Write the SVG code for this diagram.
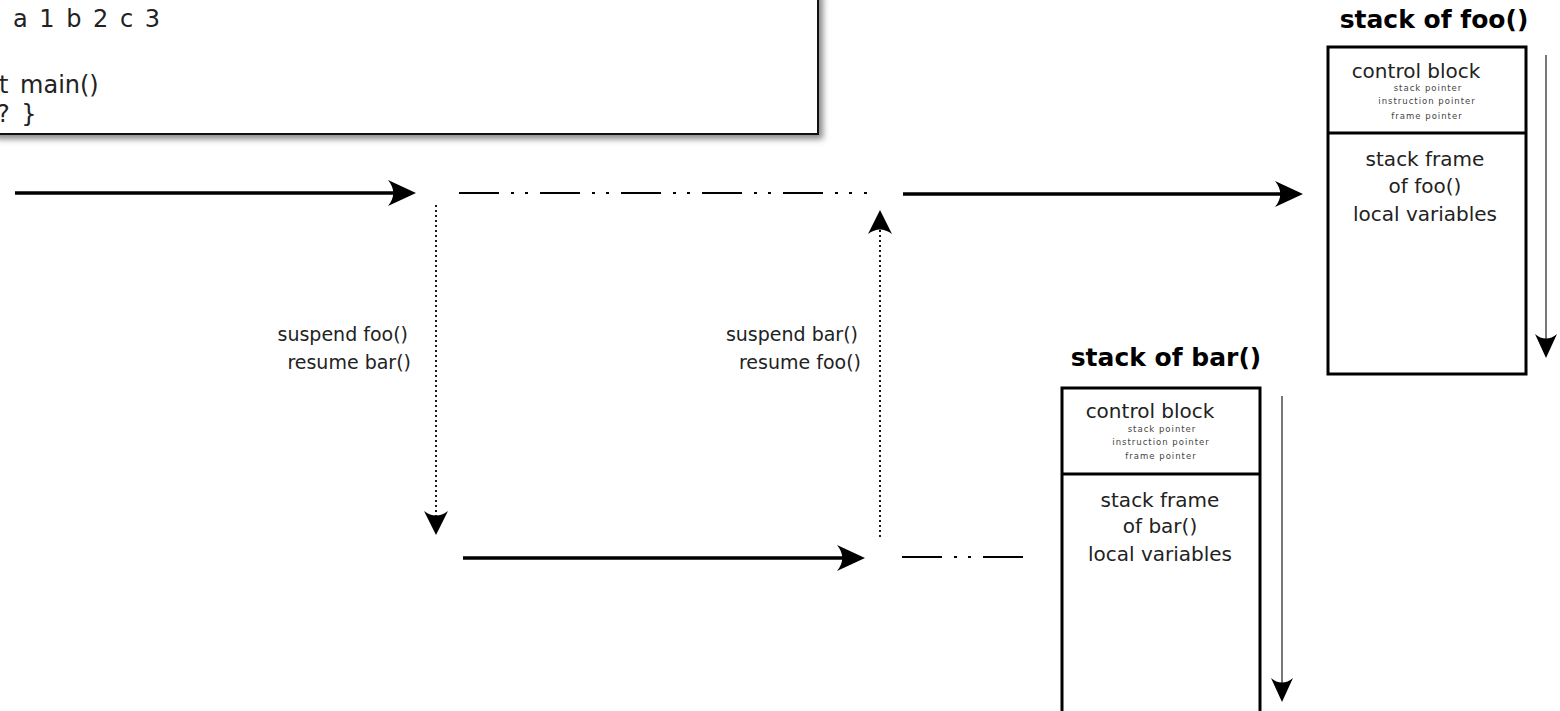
<svg xmlns="http://www.w3.org/2000/svg" width="1560" height="711" viewBox="0 0 1560 711">
<style>
.code{font-family:"DejaVu Sans","Liberation Sans",sans-serif;font-size:24px;word-spacing:4px;fill:#222}
.title{font-family:"DejaVu Sans","Liberation Sans",sans-serif;font-weight:bold;font-size:25px;fill:#000;text-anchor:middle}
.body{font-family:"DejaVu Sans","Liberation Sans",sans-serif;font-size:20px;fill:#222;text-anchor:middle}
.small{font-family:"DejaVu Sans","Liberation Sans",sans-serif;font-size:8.5px;letter-spacing:1px;fill:#444;text-anchor:middle}
.lbl{font-family:"DejaVu Sans","Liberation Sans",sans-serif;font-size:19px;fill:#222;text-anchor:end}
.box{fill:#fff;stroke:#000;stroke-width:3}
.thick{stroke:#000;stroke-width:3.5;fill:none}
.dot{stroke:#000;stroke-width:1.8;stroke-dasharray:2 3;fill:none}
.dashdot{stroke:#000;stroke-width:2.2;stroke-dasharray:40 12 3 11 3 12;fill:none}
.thin{stroke:#555;stroke-width:1.6;fill:none}
</style>
<defs>
<filter id="shadow" x="-5%" y="-20%" width="110%" height="140%"><feGaussianBlur stdDeviation="3"/></filter>
<marker id="ahBig" markerUnits="userSpaceOnUse" viewBox="-30 -15 32 30" markerWidth="32" markerHeight="30" refX="-15" refY="0" orient="auto"><path d="M0,0 L-28,-13 C-21,-4 -21,4 -28,13 Z" fill="#000"/></marker>
<marker id="ahDot" markerUnits="userSpaceOnUse" viewBox="-26 -14 28 28" markerWidth="28" markerHeight="28" refX="-13" refY="0" orient="auto"><path d="M0,0 L-24,-12 C-18,-4 -18,4 -24,12 Z" fill="#000"/></marker>
<marker id="ahThin" markerUnits="userSpaceOnUse" viewBox="-26 -13 28 26" markerWidth="28" markerHeight="26" refX="-14" refY="0" orient="auto"><path d="M0,0 L-24,-11 C-18,-4 -18,4 -24,11 Z" fill="#000"/></marker>
</defs>
<rect width="1560" height="711" fill="#fff"/>
<g id="code">
<rect x="-5" y="-5" width="828" height="144" fill="#888" filter="url(#shadow)"/>
<rect x="-10" y="-10" width="828" height="144" fill="#fff" stroke="#111" stroke-width="2"/>
<text class="code" x="13" y="27">a 1 b 2 c 3</text>
<text class="code" x="-1" y="93">t main()</text>
<text class="code" x="-3" y="122">? }</text>
</g>
<g id="stack-foo">
<text class="title" x="1434" y="28">stack of foo()</text>
<rect class="box" x="1328" y="47" width="198" height="327"/>
<line x1="1328" y1="133" x2="1526" y2="133" stroke="#000" stroke-width="3"/>
<text class="body" x="1416" y="78">control block</text>
<text class="small" x="1428" y="91">stack pointer</text>
<text class="small" x="1427" y="104">instruction pointer</text>
<text class="small" x="1427" y="119">frame pointer</text>
<text class="body" x="1425" y="166">stack frame</text>
<text class="body" x="1425" y="193">of foo()</text>
<text class="body" x="1425" y="221">local variables</text>
</g>
<g id="stack-bar">
<text class="title" x="1166" y="366">stack of bar()</text>
<rect class="box" x="1062" y="388" width="198" height="340"/>
<line x1="1062" y1="474" x2="1260" y2="474" stroke="#000" stroke-width="3"/>
<text class="body" x="1150" y="418">control block</text>
<text class="small" x="1162" y="432">stack pointer</text>
<text class="small" x="1161" y="445">instruction pointer</text>
<text class="small" x="1161" y="459">frame pointer</text>
<text class="body" x="1160" y="507">stack frame</text>
<text class="body" x="1160" y="533">of bar()</text>
<text class="body" x="1160" y="561">local variables</text>
</g>
<g id="labels">
<text class="lbl" x="408" y="341">suspend foo()</text>
<text class="lbl" x="411" y="369">resume bar()</text>
<text class="lbl" x="858" y="341">suspend bar()</text>
<text class="lbl" x="861" y="369">resume foo()</text>
</g>
<g id="connectors">
<line class="thick" x1="15" y1="193" x2="401" y2="193" marker-end="url(#ahBig)"/>
<line class="dashdot" x1="459" y1="193" x2="867" y2="193"/>
<line class="thick" x1="903" y1="194" x2="1288" y2="194" marker-end="url(#ahBig)"/>
<line class="dot" x1="436" y1="205" x2="436" y2="522" marker-end="url(#ahDot)"/>
<line class="dot" x1="880" y1="537" x2="880" y2="223" marker-end="url(#ahDot)"/>
<line class="thick" x1="463" y1="558" x2="850" y2="558" marker-end="url(#ahBig)"/>
<line class="dashdot" x1="902" y1="557" x2="1023" y2="557"/>
<line class="thin" x1="1546" y1="55" x2="1546" y2="344" marker-end="url(#ahThin)"/>
<line class="thin" x1="1282" y1="396" x2="1282" y2="688" marker-end="url(#ahThin)"/>
</g>
</svg>
